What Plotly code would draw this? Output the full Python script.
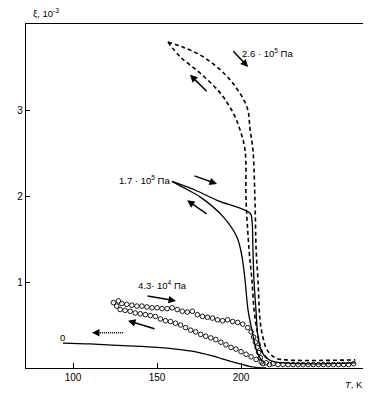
import plotly.graph_objects as go

# ---- data ----
# 2.6e5 Pa, dashed: heating (outer) and cooling (inner) branches
p26_heat_T = [156.5, 165.5, 175.6, 185.7, 195.2, 203.6, 205.4, 207.1, 208.3, 209.0, 210.1, 211.3, 213.1, 215.5, 220.2, 226.2, 268.0]
p26_heat_xi = [3.79, 3.73, 3.64, 3.50, 3.31, 3.03, 2.77, 2.53, 1.95, 1.37, 1.02, 0.56, 0.35, 0.21, 0.12, 0.095, 0.095]
p26_cool_T = [156.5, 163.7, 175.6, 187.5, 195.2, 199.4, 202.4, 203.0, 204.8, 206.5, 207.8, 209.5, 211.3, 213.7, 217.3]
p26_cool_xi = [3.79, 3.62, 3.43, 3.20, 2.97, 2.77, 2.53, 1.95, 1.37, 1.02, 0.67, 0.44, 0.27, 0.15, 0.10]

# 1.7e5 Pa, solid
p17_heat_T = [158.9, 172.6, 185.7, 205.4, 206.5, 207.1, 207.7, 208.9, 210.0, 211.9, 214.9, 220.2, 268.0]
p17_heat_xi = [2.17, 2.07, 1.95, 1.80, 1.72, 1.37, 1.02, 0.67, 0.38, 0.21, 0.12, 0.07, 0.06]
p17_cool_T = [158.9, 165.5, 175.6, 189.3, 197.6, 200.6, 202.4, 204.2, 206.5, 209.5, 212.5]
p17_cool_xi = [2.17, 2.10, 1.99, 1.76, 1.52, 1.29, 1.02, 0.67, 0.44, 0.19, 0.08]

# 4.3e4 Pa, open circles
p43_heat_T = [124, 127, 129, 132, 135, 138, 141, 144, 147, 150, 153, 156, 159, 162, 165, 168, 171, 174,
              177, 180, 183, 186, 189, 192, 195, 198, 201, 204, 206, 207.5, 208.5, 209.5, 210.5, 211.5]
p43_heat_xi = [0.76, 0.78, 0.75, 0.74, 0.73, 0.72, 0.72, 0.71, 0.70, 0.70, 0.69, 0.69, 0.70, 0.68, 0.66, 0.65,
               0.66, 0.62, 0.60, 0.59, 0.58, 0.56, 0.55, 0.56, 0.54, 0.53, 0.51, 0.47, 0.42, 0.36, 0.30, 0.24, 0.18, 0.12]
p43_cool_T = [126, 128, 131, 134, 137, 140, 143, 146, 149, 152, 155, 158, 161, 164, 167, 170, 173, 176, 179,
              182, 185, 188, 191, 194, 197, 200, 203, 206, 209, 212]
p43_cool_xi = [0.72, 0.68, 0.67, 0.66, 0.64, 0.63, 0.62, 0.61, 0.60, 0.57, 0.55, 0.54, 0.52, 0.50, 0.47, 0.44,
               0.42, 0.39, 0.37, 0.35, 0.33, 0.30, 0.27, 0.24, 0.22, 0.19, 0.16, 0.13, 0.10, 0.07]
p43_flat_T = [213, 215, 217, 219, 222, 225, 228, 231, 234, 237, 240, 243, 246, 249, 252, 255, 258, 261, 264, 267]
p43_flat_xi = [0.05, 0.06, 0.04, 0.05, 0.04, 0.04, 0.04, 0.04, 0.04, 0.04, 0.04, 0.04, 0.04, 0.04, 0.04,
               0.04, 0.04, 0.04, 0.04, 0.05]

# 0 Pa, solid
p0_T = [94, 110, 130, 150, 165, 175, 185, 195, 200, 205, 210, 215]
p0_xi = [0.29, 0.28, 0.26, 0.24, 0.21, 0.18, 0.13, 0.07, 0.045, 0.02, 0.005, 0.0]

x_ticks = [100, 150, 200]
y_ticks = [1, 2, 3]

FONT = "Liberation Sans"
fig = go.Figure()

dash_line = dict(color="black", width=1.6, dash="4px,3px")
solid_line = dict(color="black", width=1.3)

fig.add_trace(go.Scatter(x=p26_heat_T, y=p26_heat_xi, mode="lines", line=dash_line, line_shape="spline"))
fig.add_trace(go.Scatter(x=p26_cool_T, y=p26_cool_xi, mode="lines", line=dash_line, line_shape="spline"))
fig.add_trace(go.Scatter(x=p17_heat_T, y=p17_heat_xi, mode="lines", line=solid_line, line_shape="spline"))
fig.add_trace(go.Scatter(x=p17_cool_T, y=p17_cool_xi, mode="lines", line=solid_line, line_shape="spline"))
fig.add_trace(go.Scatter(x=p0_T, y=p0_xi, mode="lines", line=solid_line, line_shape="spline"))
circ = dict(symbol="circle-open", size=4.6, color="black", line=dict(width=0.9, color="black"))
fig.add_trace(go.Scatter(x=p43_heat_T, y=p43_heat_xi, mode="markers", marker=circ))
fig.add_trace(go.Scatter(x=p43_cool_T, y=p43_cool_xi, mode="markers", marker=circ))
fig.add_trace(go.Scatter(x=p43_flat_T, y=p43_flat_xi, mode="markers", marker=circ))

# arrows (tail -> head)
arrows = [
    ((194.6, 3.70), (204.2, 3.50)),
    ((180.4, 3.20), (169.6, 3.41)),
    ((171.4, 2.24), (185.7, 2.14)),
    ((180.4, 1.78), (167.9, 1.95)),
    ((143.5, 0.84), (161.3, 0.78)),
    ((149.4, 0.45), (132.7, 0.55)),
]
for (tx, ty), (hx, hy) in arrows:
    fig.add_annotation(x=hx, y=hy, ax=tx, ay=ty, xref="x", yref="y", axref="x", ayref="y",
                       showarrow=True, arrowhead=2, arrowsize=1.0, arrowwidth=1.5, arrowcolor="black", text="")
# dotted arrow near "0"
fig.add_shape(type="line", x0=129.8, y0=0.41, x1=114, y1=0.41, line=dict(color="black", width=1.5, dash="1px,1px"))
fig.add_annotation(x=111.3, y=0.41, ax=116, ay=0.41, xref="x", yref="y", axref="x", ayref="y",
                   showarrow=True, arrowhead=2, arrowsize=1.0, arrowwidth=1.5, arrowcolor="black", text="")

labels = [
    (215.5, 3.66, "2.6 · 10<sup>5</sup> Па"),
    (142.3, 2.19, "1.7 · 10<sup>5</sup> Па"),
    (153.0, 0.965, "4.3· 10<sup>4</sup> Па"),
    (93.5, 0.36, "0"),
]
for x, y, t in labels:
    fig.add_annotation(x=x, y=y, text=t, showarrow=False, xref="x", yref="y",
                       font=dict(family=FONT, size=9.5, color="black"))

fig.add_annotation(x=0.0, y=1.0, xref="paper", yref="paper", xanchor="left", yanchor="bottom",
                   xshift=5, yshift=3, text="ξ, 10<sup>-3</sup>", showarrow=False,
                   font=dict(family=FONT, size=9.5, color="black"))
fig.add_annotation(x=1.0, y=0.0, xref="paper", yref="paper", xanchor="right", yanchor="top",
                   xshift=2, yshift=-9, text="<i>T</i>, K", showarrow=False,
                   font=dict(family=FONT, size=9.5, color="black"))

axis_common = dict(showline=True, linecolor="black", linewidth=1.2, mirror=True, ticks="inside",
                   tickcolor="black", tickwidth=1.2, showgrid=False, zeroline=False,
                   tickfont=dict(family=FONT, size=10, color="black"))
fig.update_xaxes(range=[72, 272.6], tickvals=x_ticks, ticklen=5, **axis_common)
fig.update_yaxes(range=[0, 4.0], tickvals=y_ticks, ticklen=4, **axis_common)

# page body has an 8px margin: size the figure so the plot area lands where the reference has it
fig.update_layout(width=363, height=392, margin=dict(l=18, r=8, t=16, b=32),
                  paper_bgcolor="white", plot_bgcolor="white", showlegend=False)

fig.write_html("out.html")
